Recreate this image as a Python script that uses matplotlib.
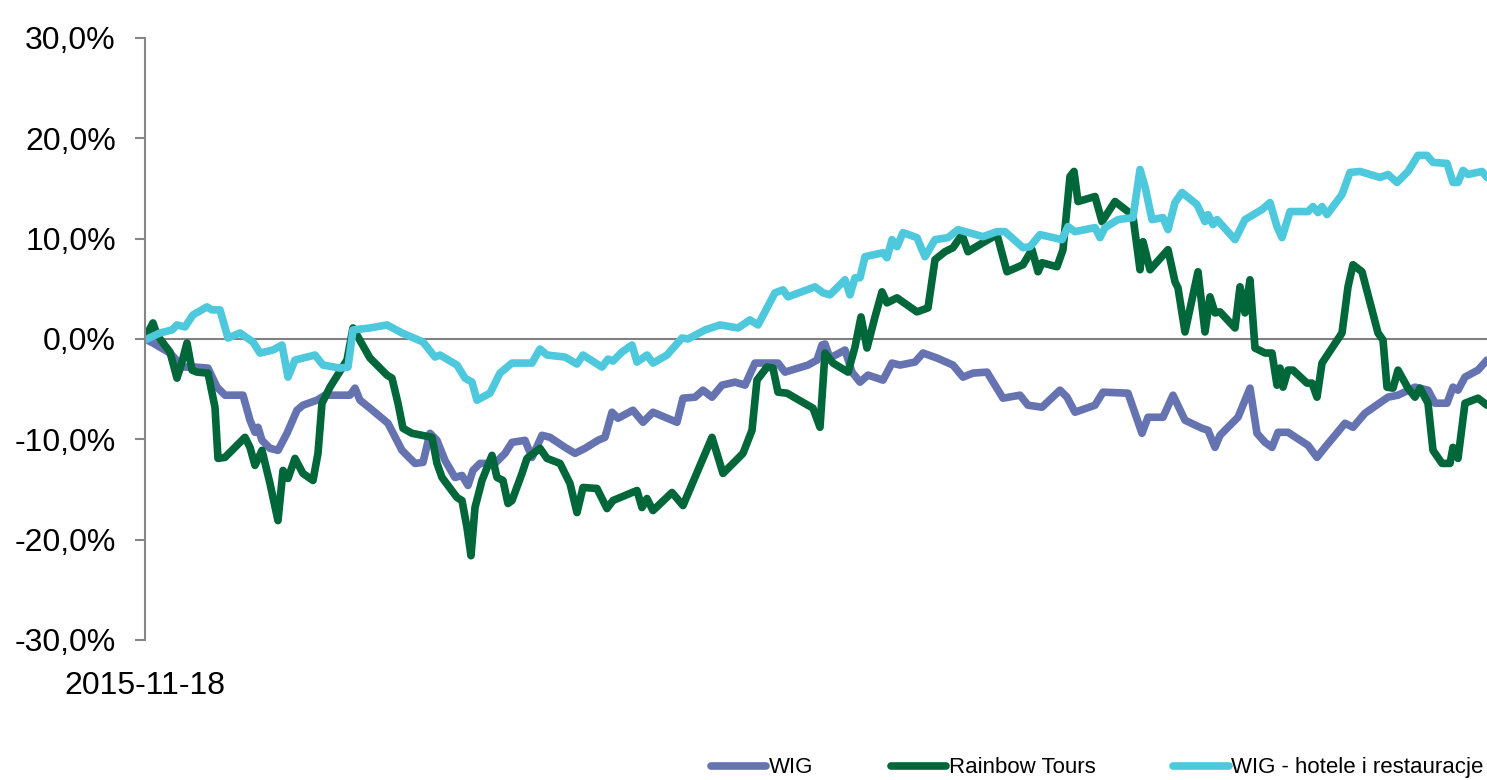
import matplotlib.pyplot as plt
from matplotlib.ticker import FuncFormatter

plt.rcParams['font.family'] = ['Liberation Sans', 'DejaVu Sans']

# sesje od 2015-11-18, stopy zwrotu w %
wig_dni = [0, 1.6, 5, 7.6, 10, 12.6, 14.4, 16, 19.6, 21, 22, 22.6, 23.4, 25, 26.6, 28.4, 30.4, 31.6,
           34.4, 36, 41, 42, 43, 45, 48.6, 51.4, 54, 55.6, 57, 58.4, 60, 62, 63.4, 64.6, 65.6, 67,
           70, 72, 73.4, 76, 77.4, 79.4, 81, 84, 86, 88, 90.6, 92, 93.4, 94.6, 97.6, 99.6, 101.6,
           106.4, 107.6, 110, 111.6, 113.4, 115.4, 118, 120, 122, 126.6, 128, 132.6, 134.4, 135.4,
           136, 137, 140, 141.4, 143, 144.6, 147.6, 149.4, 151, 154, 155.6, 158.4, 161.6, 163.6,
           165.6, 168.4, 171.6, 175, 176.6, 179.4, 183, 184.4, 186, 190, 191.6, 196.6, 199.4, 200.6,
           203.6, 205.6, 208, 211.4, 212.6, 214, 215, 218.6, 221, 222.4, 224, 225.4, 226.6, 228.6,
           232.6, 234.4, 236, 240, 241.6, 244, 248.6, 250.6, 254, 256.6, 258, 260.4, 261.6, 262.6,
           264, 266.6, 268.4]
wig_val = [0.0, -0.4, -1.4, -2.8, -2.8, -2.9, -4.8, -5.6, -5.6, -8.1, -9.3, -8.8, -10.1, -10.9, -11.1,
           -9.4, -7.1, -6.6, -6.1, -5.6, -5.6, -4.9, -6.1, -6.9, -8.4, -11.1, -12.4, -12.3, -9.4, -10.1,
           -12.1, -13.8, -13.6, -14.6, -13.1, -12.4, -12.4, -11.4, -10.3, -10.1, -11.8, -9.6, -9.8,
           -10.8, -11.4, -10.9, -10.1, -9.8, -7.3, -7.9, -7.1, -8.3, -7.3, -8.3, -5.9, -5.8, -5.1,
           -5.8, -4.6, -4.3, -4.6, -2.4, -2.4, -3.3, -2.6, -2.1, -0.6, -0.5, -1.9, -1.1, -3.3, -4.3,
           -3.6, -4.1, -2.4, -2.6, -2.3, -1.4, -1.9, -2.6, -3.8, -3.4, -3.3, -5.9, -5.6, -6.6, -6.8,
           -5.1, -5.8, -7.3, -6.6, -5.3, -5.4, -9.4, -7.8, -7.8, -5.6, -8.1, -8.9, -9.1, -10.8, -9.6,
           -7.8, -4.9, -9.4, -10.3, -10.8, -9.3, -9.3, -10.6, -11.8, -10.8, -8.4, -8.8, -7.4, -5.8,
           -5.6, -4.8, -5.1, -6.4, -6.4, -4.8, -5.1, -3.8, -3.1, -2.1]

rt_dni = [0, 1.6, 2.4, 5, 6.4, 7.4, 8.4, 9.4, 10.4, 12.6, 14, 14.6, 16, 20, 21, 22, 23.4, 25, 26.6,
          27.6, 28.6, 30, 31.6, 33.6, 34.6, 35.4, 37, 40.4, 41.6, 42.6, 45, 48.4, 49.4, 50.6, 51.6,
          53.4, 57.4, 58.4, 59.4, 62.4, 63.4, 64.4, 65.2, 66, 67.4, 69.4, 70.4, 71.6, 72.6, 73.4,
          75.4, 76.4, 79, 80.4, 83, 85, 86.4, 87.6, 90.4, 92.4, 93.6, 98.4, 99.4, 100.4, 101.6,
          105.4, 107.6, 113.4, 115.6, 119.6, 121.4, 122.4, 124.4, 125.6, 126.6, 128.4, 133.6, 135,
          136, 137.6, 140.6, 142, 143.2, 144.4, 146, 147.4, 148.4, 150.4, 154.4, 156.6, 158, 160,
          161.6, 163.4, 164.6, 167.6, 170.4, 172.4, 175.6, 177.4, 178.6, 179.4, 182.4, 183.6, 185,
          185.8, 186.6, 190, 191.4, 194, 196.6, 197.6, 199, 199.6, 201, 204.6, 206, 206.6, 208,
          210.6, 212, 213, 214, 215, 218, 219, 220, 221, 222, 224, 225.4, 226.4, 227, 227.6, 228.6,
          229.6, 232.4, 233.4, 234.4, 235.4, 237.4, 239.4, 240.6, 241.6, 243.4, 246.6, 247.6, 248.4,
          249.6, 250.6, 252.6, 254, 255, 256.6, 257.6, 259.4, 261, 261.6, 262.6, 264, 266.6, 268.4]
rt_val = [0.1, 1.6, 0.4, -1.3, -3.9, -2.3, -0.4, -3.1, -3.3, -3.4, -6.8, -11.9, -11.8, -9.8, -10.8,
          -12.6, -11.1, -14.4, -18.1, -13.1, -13.9, -11.9, -13.4, -14.1, -11.4, -6.4, -4.8, -2.1, 1.1,
          0.2, -1.9, -3.6, -3.9, -6.4, -8.9, -9.4, -9.8, -12.4, -13.8, -15.8, -16.1, -18.8, -21.6,
          -16.8, -14.1, -11.6, -13.8, -14.1, -16.4, -16.1, -13.4, -11.9, -10.9, -11.9, -12.4, -14.4,
          -17.3, -14.8, -14.9, -16.9, -16.1, -15.1, -16.8, -15.9, -17.1, -15.3, -16.6, -9.8, -13.4,
          -11.4, -9.1, -4.1, -2.8, -2.9, -5.3, -5.4, -6.9, -8.8, -1.4, -2.4, -3.3, -0.8, 2.2, -0.9,
          2.2, 4.7, 3.6, 4.1, 2.7, 3.1, 7.9, 8.7, 9.1, 10.4, 8.7, 9.6, 10.4, 6.7, 7.4, 8.9, 6.7, 7.6,
          7.2, 8.9, 16.2, 16.7, 13.7, 14.2, 11.7, 13.7, 12.7, 12.2, 6.9, 9.7, 6.9, 8.9, 5.7, 5.1, 0.7,
          6.7, 0.7, 4.2, 2.6, 2.7, 1.1, 5.2, 2.6, 5.9, -0.9, -1.4, -1.4, -4.6, -2.9, -4.8, -3.1, -3.1,
          -4.4, -4.4, -5.8, -2.4, -0.9, 0.6, 5.2, 7.4, 6.7, 0.6, -0.1, -4.8, -4.9, -3.1, -4.9, -5.8,
          -4.9, -6.4, -11.1, -12.4, -12.4, -10.8, -11.9, -6.4, -5.9, -6.6]

hr_dni = [0, 3, 5.4, 6.4, 8, 9.6, 12.4, 13.4, 15, 16.6, 19, 21.6, 23, 25.6, 27.4, 28.6, 30, 34, 35.6,
          39, 40.6, 41.6, 45, 48.4, 51.4, 55.6, 58, 59, 62.4, 64, 65.4, 66.4, 69, 71, 73.4, 77.4, 79,
          80.4, 84, 86.4, 87.6, 91.4, 92.6, 93.6, 95.4, 97.4, 98.4, 100.4, 101.6, 104.4, 107.4, 108.6,
          112, 115, 118.6, 121, 122.6, 126, 127.6, 128.6, 134, 135.6, 137, 140, 141, 142, 143, 144,
          147.6, 148.4, 149.4, 150.4, 151.6, 154.4, 156, 158, 160.6, 162.6, 167.6, 170.4, 172, 175.6,
          177, 179, 183.4, 184.6, 186, 190, 191, 192, 194.6, 197.6, 199, 200, 201.4, 203.6, 204.6,
          206, 207.4, 210.4, 212, 212.6, 213.6, 214.4, 218, 220, 223.4, 225, 226.4, 227.4, 229, 232.6,
          233.6, 234.6, 235.4, 236.4, 239.4, 241, 243, 247, 248.6, 250.4, 252.6, 254.6, 256.4, 257.6,
          260.4, 261.6, 262.6, 263.6, 264.6, 267.4, 268.4]
hr_val = [-0.1, 0.6, 0.9, 1.4, 1.2, 2.4, 3.2, 2.9, 2.9, 0.1, 0.6, -0.3, -1.4, -1.1, -0.6, -3.8, -2.1,
          -1.6, -2.6, -2.9, -2.8, 0.9, 1.1, 1.4, 0.6, -0.3, -1.8, -1.6, -2.6, -3.9, -4.3, -6.1, -5.4,
          -3.4, -2.4, -2.4, -1.0, -1.6, -1.8, -2.5, -1.6, -2.8, -2.0, -2.2, -1.3, -0.6, -2.3, -1.6,
          -2.4, -1.6, 0.1, 0.0, 0.9, 1.4, 1.1, 1.9, 1.4, 4.6, 4.9, 4.2, 5.2, 4.6, 4.4, 5.9, 4.4, 6.1,
          6.1, 8.2, 8.6, 8.1, 9.9, 9.2, 10.6, 10.1, 8.2, 9.9, 10.1, 10.9, 10.2, 10.7, 10.7, 9.1, 9.2,
          10.4, 9.9, 11.2, 10.7, 11.1, 10.1, 11.1, 11.9, 12.1, 16.9, 15.2, 11.9, 12.1, 10.9, 13.6,
          14.6, 13.4, 11.7, 12.4, 11.4, 11.9, 9.9, 11.9, 12.9, 13.6, 11.2, 10.1, 12.7, 12.7, 13.2,
          12.6, 13.2, 12.4, 14.4, 16.6, 16.7, 16.1, 16.4, 15.6, 16.7, 18.3, 18.3, 17.6, 17.5, 15.6,
          15.6, 16.8, 16.4, 16.7, 16.1]

nazwy = ['WIG', 'Rainbow Tours', 'WIG - hotele i restauracje']
kolory = ['#6673B1', '#00673A', '#4DC8DC']

fig = plt.figure(figsize=(14.87, 7.80), dpi=100)
ax = fig.add_axes([0.0975, 0.1795, 0.9025, 0.7718])

for x, y, nazwa, kolor in zip([wig_dni, rt_dni, hr_dni], [wig_val, rt_val, hr_val], nazwy, kolory):
    ax.plot(x, y, color=kolor, lw=5.5, label=nazwa, solid_joinstyle='round', solid_capstyle='round')

ax.axhline(0, color='#808080', lw=1.5, zorder=0)

ax.set_xlim(0, 268.4)
ax.set_ylim(-30, 30)
ax.set_yticks(range(-30, 31, 10))
ax.yaxis.set_major_formatter(FuncFormatter(lambda v, p: f'{v:.1f}%'.replace('.', ',')))
ax.set_xticks([0])
ax.set_xticklabels(['2015-11-18'])
ax.tick_params(axis='y', length=7, width=1.5, color='#868686', pad=14, labelsize=23)
ax.tick_params(axis='x', length=0, pad=22, labelsize=23)

for s in ['top', 'right', 'bottom']:
    ax.spines[s].set_visible(False)
ax.spines['left'].set_color('#868686')
ax.spines['left'].set_linewidth(1.5)

fig.legend(loc='center right', bbox_to_anchor=(0.9975, 0.0154), ncol=3, frameon=False,
           fontsize=16, handlelength=2.5, handletextpad=0.1, columnspacing=3.5,
           borderpad=0, borderaxespad=0)

fig.savefig('out.png', dpi=100)
